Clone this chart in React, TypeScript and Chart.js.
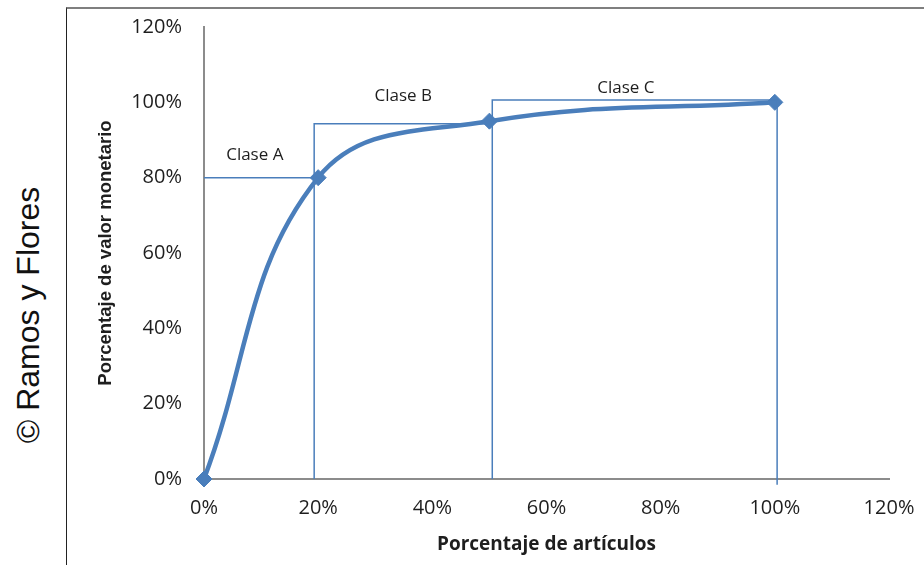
import React, { useEffect, useRef } from "react";
import { Chart, registerables } from "chart.js";

Chart.register(...registerables);

// ---- data ----
const curveX = [0, 20, 50, 100];
const curveY = [0, 80, 95, 100];

const classAX = [0, 20];
const classAY = [80, 80];
const classBX = [19.3, 19.3, 50];
const classBY = [0, 94.3, 94.3];
const classCX = [50.5, 50.5, 100.4, 100.4];
const classCY = [0, 100.6, 100.6, -1.5];

const classLabels = ["Clase A", "Clase B", "Clase C"];
const classLabelX = [8.9, 34.9, 73.9];
const classLabelY = [86, 101.7, 103.8];

const xTicks = [0, 20, 40, 60, 80, 100, 120];
const yTicks = [0, 20, 40, 60, 80, 100, 120];

const xTitle = "Porcentaje de artículos";
const yTitle = "Porcentaje de valor monetario";
const credit = "© Ramos y Flores";

const BLUE = "#4a7ebb";
const TEXT = "#1e1e1e";
const FONT = "'Open Sans', Lato, sans-serif";

function zip(xs: number[], ys: number[]) {
  return xs.map((x, i) => ({ x, y: ys[i] }));
}

const labelPlugin = {
  id: "classLabels",
  afterDatasetsDraw(chart: any) {
    const { ctx, scales } = chart;
    ctx.save();
    ctx.font = `17px ${FONT}`;
    ctx.fillStyle = TEXT;
    ctx.textAlign = "center";
    ctx.textBaseline = "middle";
    classLabels.forEach((t, i) => {
      ctx.fillText(
        t,
        scales.x.getPixelForValue(classLabelX[i]),
        scales.y.getPixelForValue(classLabelY[i])
      );
    });
    ctx.restore();
  },
};

export default function App() {
  const ref = useRef<HTMLCanvasElement | null>(null);
  useEffect(() => {
    if (!ref.current) return;
    const thin = {
      borderColor: BLUE,
      borderWidth: 1.5,
      pointRadius: 0,
      tension: 0,
      showLine: true,
      fill: false,
      clip: false,
    };
    const chart = new Chart(ref.current, {
      type: "scatter",
      data: {
        datasets: [
          { ...thin, data: zip(classAX, classAY) },
          { ...thin, data: zip(classBX, classBY) },
          { ...thin, data: zip(classCX, classCY) },
          {
            data: zip(curveX, curveY),
            showLine: true,
            borderColor: BLUE,
            backgroundColor: BLUE,
            borderWidth: 4.5,
            tension: 0.4,
            pointStyle: "rectRot",
            pointRadius: 8,
            pointBorderWidth: 1,
            pointBorderColor: BLUE,
            pointBackgroundColor: BLUE,
            fill: false,
            clip: false,
          } as any,
        ],
      },
      options: {
        animation: false,
        responsive: false,
        layout: { padding: { top: 18, right: 35, left: 0, bottom: 0 } },
        plugins: { legend: { display: false }, tooltip: { enabled: false } },
        scales: {
          x: {
            type: "linear",
            min: 0,
            max: 120,
            afterFit: (s: any) => {
              s.height = 86;
              s.paddingLeft = 0;
              s.paddingRight = 0;
            },
            afterBuildTicks: (s: any) => {
              s.ticks = xTicks.map((v) => ({ value: v }));
            },
            grid: { display: false, drawTicks: false },
            border: { display: true, color: "#8c8c8c", width: 2 },
            ticks: {
              padding: 17,
              color: TEXT,
              font: { family: FONT, size: 20 },
              callback: (v: any) => v + "%",
            },
            title: {
              display: true,
              text: xTitle,
              color: TEXT,
              font: { family: FONT, size: 19, weight: "bold" },
              padding: { top: 0, bottom: 9 },
            },
          },
          y: {
            type: "linear",
            min: 0,
            max: 120,
            afterFit: (s: any) => {
              s.width = 136;
              s.paddingTop = 0;
              s.paddingBottom = 0;
            },
            afterBuildTicks: (s: any) => {
              s.ticks = yTicks.map((v) => ({ value: v }));
            },
            grid: { display: false, drawTicks: false },
            border: { display: true, color: "#8c8c8c", width: 2 },
            ticks: {
              padding: 22,
              color: TEXT,
              font: { family: FONT, size: 20 },
              callback: (v: any) => v + "%",
            },
            title: {
              display: true,
              text: yTitle,
              color: TEXT,
              font: { family: "'Liberation Sans', Arial, sans-serif", size: 18.5, weight: "bold" },
              padding: { top: 27, bottom: 0 },
            },
          },
        },
      },
      plugins: [labelPlugin],
    });
    return () => chart.destroy();
  }, []);

  return (
    <div
      style={{
        position: "absolute",
        left: 0,
        top: 0,
        width: 924,
        height: 565,
        background: "#fff",
        overflow: "hidden",
      }}
    >
      <div
        style={{
          position: "absolute",
          left: 28,
          top: 315,
          transform: "translate(-50%, -50%) rotate(-90deg)",
          whiteSpace: "nowrap",
          fontFamily: "'Liberation Sans', Arial, sans-serif",
          fontSize: 32,
          color: "#111",
        }}
      >
        {credit}
      </div>
      <div
        style={{
          position: "absolute",
          left: 66,
          top: 7,
          width: 900,
          height: 600,
          borderLeft: "1.5px solid #222",
          borderTop: "2px solid #7f7f7f",
        }}
      />
      <canvas
        ref={ref}
        width={856}
        height={556}
        style={{ position: "absolute", left: 68, top: 9, width: 856, height: 556 }}
      />
    </div>
  );
}
